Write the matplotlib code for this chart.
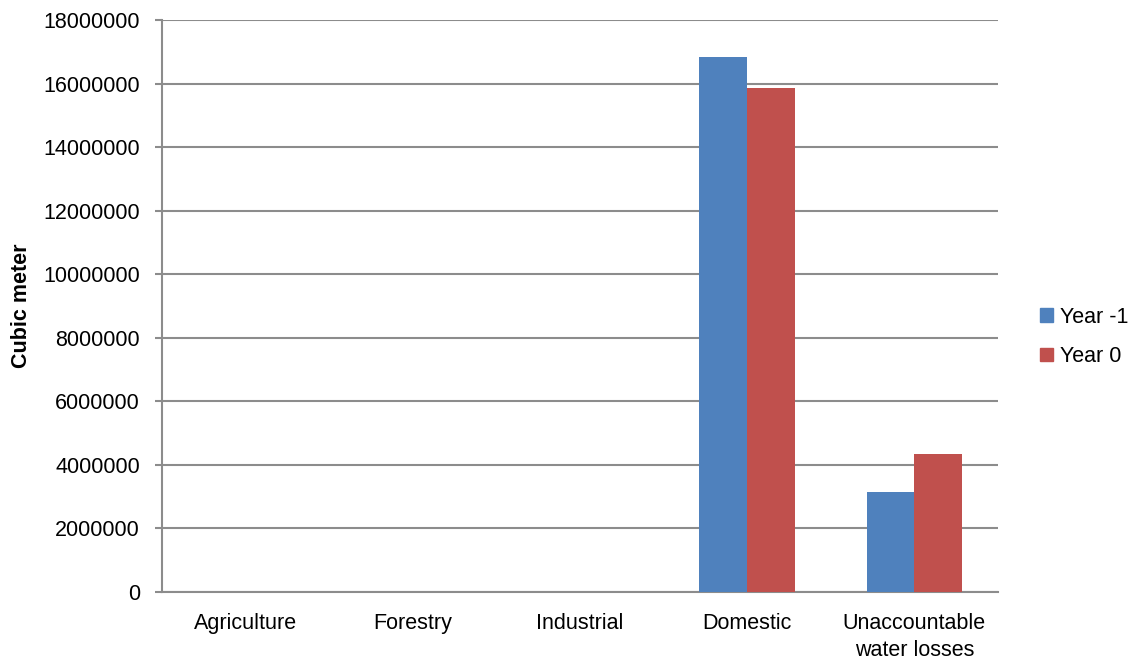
import numpy as np
import matplotlib.pyplot as plt
from matplotlib.patches import Patch

plt.rcParams['font.family'] = ['Liberation Sans', 'DejaVu Sans']

categories = ['Agriculture', 'Forestry', 'Industrial', 'Domestic', 'Unaccountable\nwater losses']
year_minus_1 = [0, 0, 0, 16850000, 3150000]
year_0 = [0, 0, 0, 15850000, 4330000]
series_names = ['Year -1', 'Year 0']
colours = ['#4F81BD', '#C0504D']

fs = 15.5
fig = plt.figure(figsize=(11.35, 6.65), dpi=100)
ax = fig.add_axes([162/1135, 73/665, 836/1135, 572/665])

x = np.arange(len(categories))
w = 1 / 3.5  # gap width 150 %
ax.bar(x - w/2, year_minus_1, w, color=colours[0], zorder=3)
ax.bar(x + w/2, year_0, w, color=colours[1], zorder=3)

ax.set_xlim(-0.5, len(categories) - 0.5)
ax.set_ylim(0, 18000000)
ax.set_yticks(np.arange(0, 18000001, 2000000))
ax.set_yticklabels([str(v) for v in range(0, 18000001, 2000000)])
ax.yaxis.grid(True, color='#8c8c8c', linewidth=1.5, zorder=0)
ax.set_axisbelow(True)

for s in ['top', 'right']:
    ax.spines[s].set_visible(False)
for s in ['left', 'bottom']:
    ax.spines[s].set_color('#8c8c8c')
    ax.spines[s].set_linewidth(1.5)

ax.set_xticks(x)
ax.set_xticklabels(categories, fontsize=fs, linespacing=1.4)
ax.tick_params(axis='x', length=0, pad=15)
ax.tick_params(axis='y', length=5, width=1.5, color='#8c8c8c', labelsize=fs, pad=11)
ax.set_ylabel('Cubic meter', fontsize=fs, fontweight='bold')
ax.yaxis.set_label_coords((32 - 162) / 836, 0.5)

handles = [Patch(color=c) for c in colours]
fig.legend(handles, series_names, loc='center left', bbox_to_anchor=(1040/1135, 1 - 337/665),
           frameon=False, fontsize=fs, handlelength=0.6, handleheight=0.6,
           handletextpad=0.35, labelspacing=0.85, borderpad=0, borderaxespad=0)

fig.savefig('out.png', dpi=100)
